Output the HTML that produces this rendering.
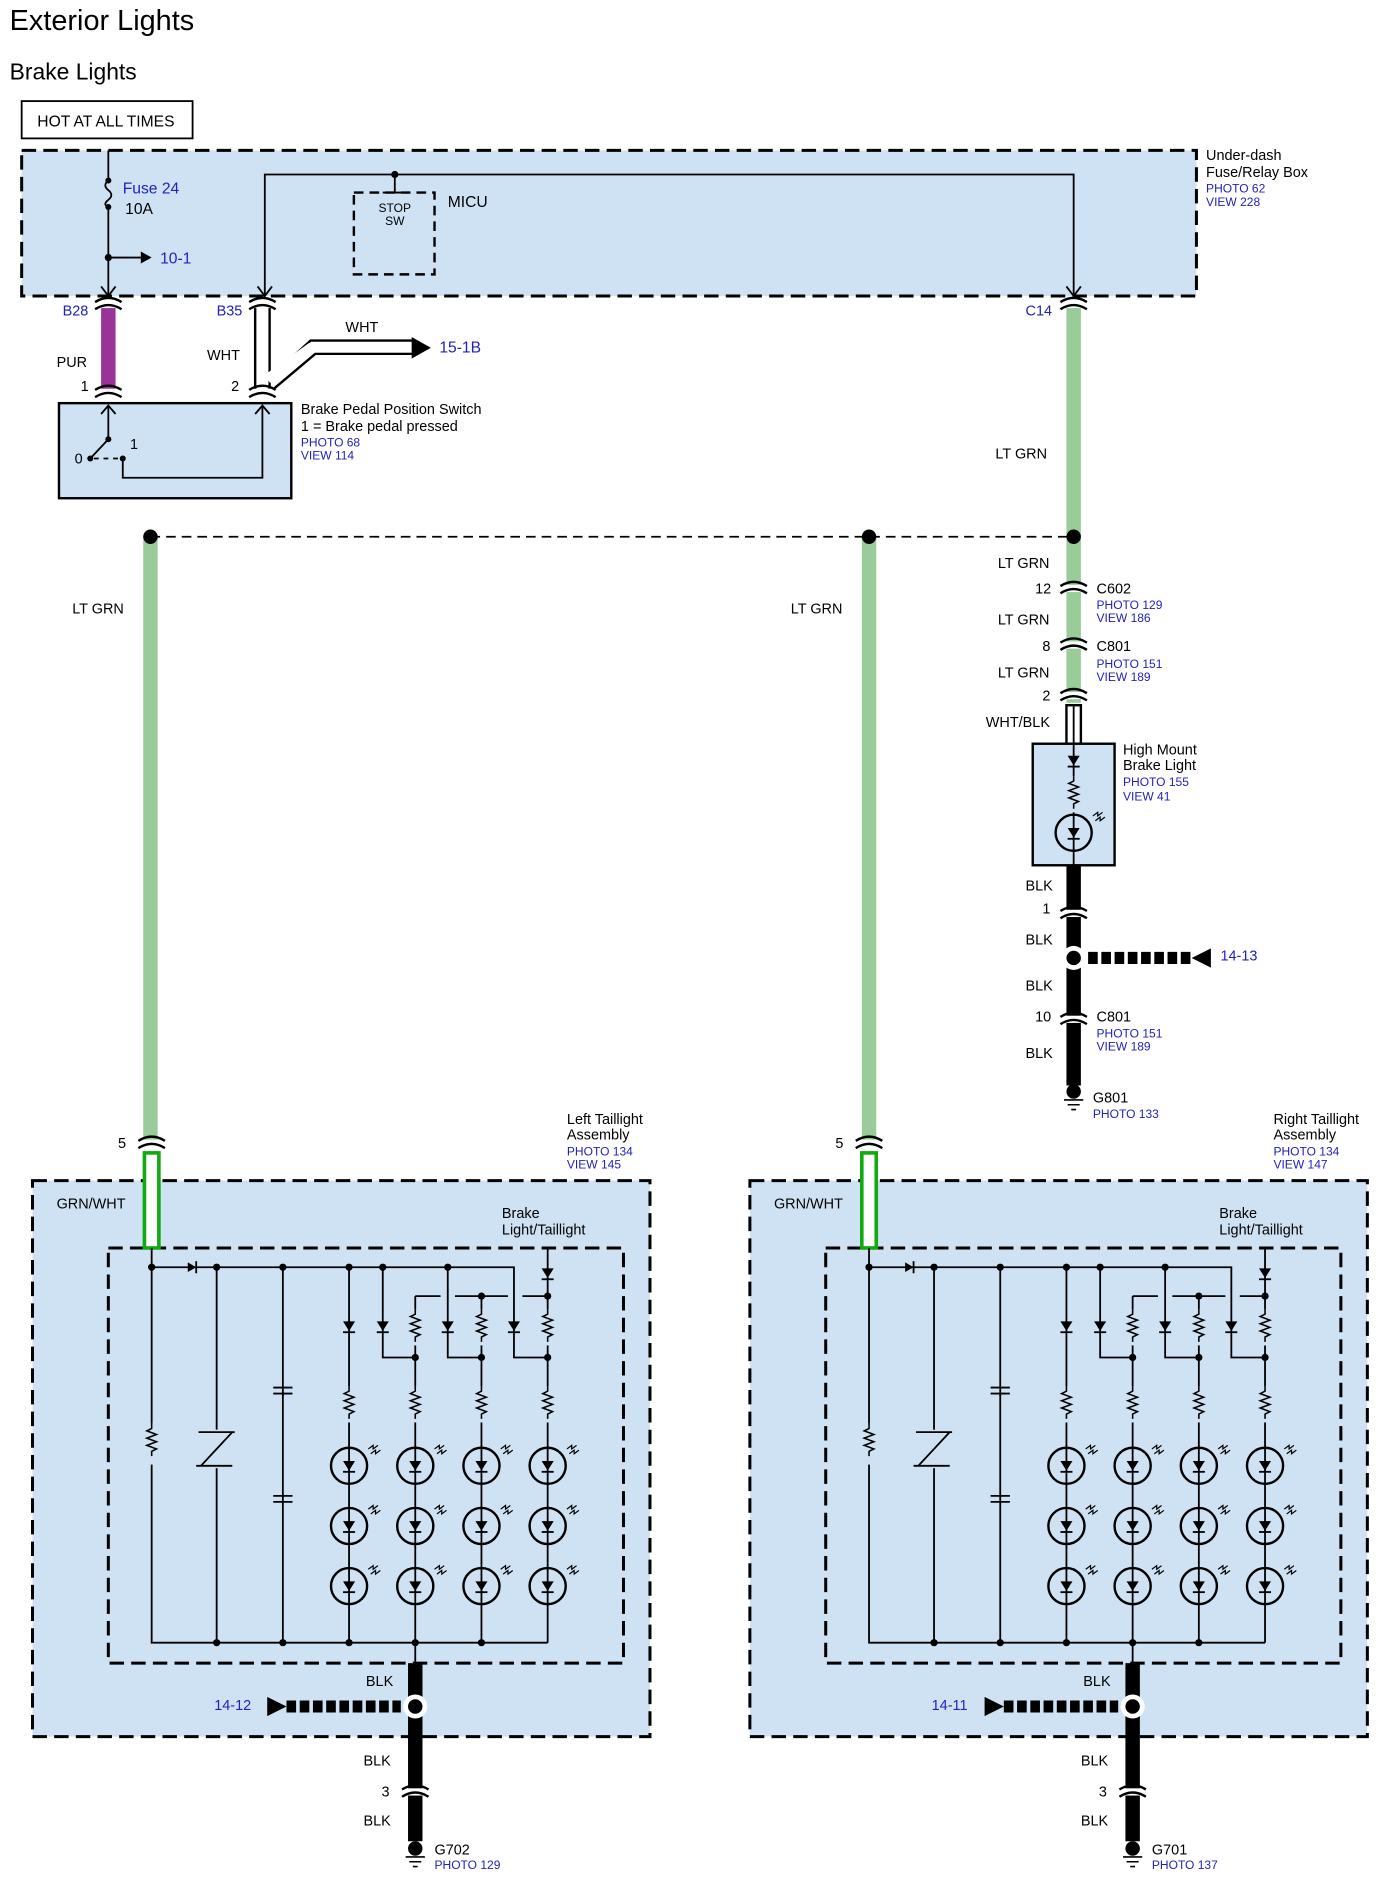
<!DOCTYPE html>
<html><head><meta charset="utf-8"><style>
html,body{margin:0;padding:0;background:#fff}
svg{display:block}
text{font-family:"Liberation Sans",Arial,sans-serif;fill:#000}
.b{fill:#2222bb}
</style></head><body>
<svg width="1383" height="1887" viewBox="0 0 1149 1568" preserveAspectRatio="none" xmlns="http://www.w3.org/2000/svg">
<defs>
<g id="conn">
 <rect x="-12" y="-3" width="24" height="6" fill="#fff"/>
 <path d="M-11,-2 q11,-7 22,0 M-11,4 q11,-7 22,0" fill="none" stroke="#000" stroke-width="2"/>
</g>
<g id="led">
 <circle cx="0" cy="0" r="15" fill="none" stroke="#000" stroke-width="2"/>
 <path d="M-5,-4 L5,-4 L0,4 Z" fill="#000"/>
 <path d="M-5,5 L5,5" stroke="#000" stroke-width="1.5"/>
 <path d="M16,-14 l4,-3 l0,3 l4,-3 M18,-10 l4,-3 l0,3 l4,-3" fill="none" stroke="#000" stroke-width="1"/>
</g>
<g id="dio"><path d="M-5,-4 L5,-4 L0,4 Z" fill="#000"/><path d="M-5,5 L5,5" stroke="#000" stroke-width="1.5"/></g>
<path id="res" d="M0,0 l0,4 l-4,2 l8,3 l-8,3 l8,3 l-8,3 l8,3 l-4,2 l0,4" fill="none" stroke="#000" stroke-width="1.3"/>
<g id="tail">
 <rect x="27" y="981" width="513" height="462" fill="#cfe2f3" stroke="#000" stroke-width="2.5" stroke-dasharray="12,6"/>
 <rect x="90" y="1037" width="428" height="345" fill="none" stroke="#000" stroke-width="2.5" stroke-dasharray="12,6"/>
 <rect x="120" y="958" width="12" height="79" fill="#fff" stroke="#11aa11" stroke-width="3"/>
 <g stroke="#000" stroke-width="1.5" fill="none">
  <path d="M126,1037 V1365 H455"/>
  <path d="M126,1053 H427 V1100"/>
  <path d="M180,1053 V1365 M235,1053 V1365 M290,1053 V1365 M345,1077 V1382 M400,1077 V1365 M455,1037 V1365"/>
  <path d="M318,1053 V1128 H345 M372,1053 V1128 H400 M427,1100 V1128 H455"/>
  <path d="M345,1077 H366 M378,1077 H422 M434,1077 H455"/>
  <path d="M227,1153 H243 M227,1158 H243 M227,1243 H243 M227,1248 H243"/>
 </g>
 <rect x="232" y="1160" width="6" height="82" fill="#cfe2f3"/>
 <path d="M235,1158 V1243" stroke="#000" stroke-width="1.5"/>
 <rect x="177" y="1188" width="6" height="32" fill="#cfe2f3"/>
 <path d="M163,1218 L193,1218 M165,1190 L195,1190 M193,1190 L167,1218" stroke="#000" stroke-width="1.5" fill="none"/>
 <rect x="122" y="1183" width="8" height="34" fill="#cfe2f3"/>
 <use href="#res" x="126" y="1183"/>
 <g fill="#000">
  <path d="M156,1049 L156,1057 L163,1053 Z"/><path d="M163,1048 V1058" stroke="#000" stroke-width="1.5"/>
  <circle cx="126" cy="1053" r="3"/><circle cx="180" cy="1053" r="3"/><circle cx="235" cy="1053" r="3"/><circle cx="290" cy="1053" r="3"/><circle cx="318" cy="1053" r="3"/><circle cx="372" cy="1053" r="3"/>
  <circle cx="400" cy="1077" r="3"/><circle cx="455" cy="1077" r="3"/>
  <circle cx="345" cy="1128" r="3"/><circle cx="400" cy="1128" r="3"/><circle cx="455" cy="1128" r="3"/>
  <circle cx="180" cy="1365" r="3"/><circle cx="235" cy="1365" r="3"/><circle cx="290" cy="1365" r="3"/><circle cx="345" cy="1365" r="3"/><circle cx="400" cy="1365" r="3"/>
 </g>
 <use href="#dio" x="455" y="1058"/>
 <use href="#dio" x="290" y="1102"/><use href="#dio" x="318" y="1102"/><use href="#dio" x="372" y="1102"/><use href="#dio" x="427" y="1102"/>
 <g>
  <rect x="341" y="1088" width="8" height="30" fill="#cfe2f3"/><use href="#res" x="345" y="1088"/>
  <rect x="396" y="1088" width="8" height="30" fill="#cfe2f3"/><use href="#res" x="400" y="1088"/>
  <rect x="451" y="1088" width="8" height="30" fill="#cfe2f3"/><use href="#res" x="455" y="1088"/>
  <rect x="286" y="1152" width="8" height="30" fill="#cfe2f3"/><use href="#res" x="290" y="1152"/>
  <rect x="341" y="1152" width="8" height="30" fill="#cfe2f3"/><use href="#res" x="345" y="1152"/>
  <rect x="396" y="1152" width="8" height="30" fill="#cfe2f3"/><use href="#res" x="400" y="1152"/>
  <rect x="451" y="1152" width="8" height="30" fill="#cfe2f3"/><use href="#res" x="455" y="1152"/>
 </g>
 <use href="#led" x="290" y="1218"/><use href="#led" x="345" y="1218"/><use href="#led" x="400" y="1218"/><use href="#led" x="455" y="1218"/>
 <use href="#led" x="290" y="1268"/><use href="#led" x="345" y="1268"/><use href="#led" x="400" y="1268"/><use href="#led" x="455" y="1268"/>
 <use href="#led" x="290" y="1318"/><use href="#led" x="345" y="1318"/><use href="#led" x="400" y="1318"/><use href="#led" x="455" y="1318"/>
 <rect x="339" y="1382" width="12" height="148" fill="#000"/>
 <use href="#conn" x="345" y="1489"/>
 <circle cx="345" cy="1418" r="10" fill="#fff"/><circle cx="345" cy="1418" r="6" fill="#000"/>
 <path d="M238,1418 H333" stroke="#000" stroke-width="10" stroke-dasharray="8,3"/>
 <path d="M222,1410 L238,1418 L222,1426 Z" fill="#000"/>
 <circle cx="345" cy="1536" r="6" fill="#000"/>
 <path d="M337,1543 H353 M340,1547 H350 M343,1551 H347" stroke="#000" stroke-width="1.3"/>
 <use href="#conn" x="126" y="950"/>
 <text x="98" y="954" font-size="12">5</text>
 <text x="47" y="1004" font-size="12">GRN/WHT</text>
 <text x="417" y="1012" font-size="12">Brake</text>
 <text x="417" y="1026" font-size="12">Light/Taillight</text>
 <text x="304" y="1401" font-size="12">BLK</text>
 <text x="302" y="1467" font-size="12">BLK</text>
 <text x="317" y="1493" font-size="12">3</text>
 <text x="302" y="1517" font-size="12">BLK</text>
</g>
</defs>

<text x="8" y="25" font-size="24">Exterior Lights</text>
<text x="8" y="66" font-size="19">Brake Lights</text>
<rect x="18" y="84" width="142" height="31" fill="#fff" stroke="#000" stroke-width="1.5"/>
<text x="31" y="105" font-size="13">HOT AT ALL TIMES</text>

<rect x="18" y="125" width="976" height="121" fill="#cfe2f3" stroke="#000" stroke-width="2.5" stroke-dasharray="12,6"/>
<g stroke="#000" stroke-width="1.5" fill="none">
 <path d="M90,125 V148 M90,172 V246"/>
 <path d="M90,150 q-5,4 0,8 q5,4 0,8 q-5,4 0,6"/>
 <path d="M90,214 H117"/>
 <path d="M220,246 V145 H892 V246"/>
 <path d="M328,145 V160 M318,160 H338"/>
 <path d="M84,238 L90,246 L96,238 M214,238 L220,246 L226,238 M886,238 L892,246 L898,238"/>
</g>
<path d="M117,209 L126,214 L117,219 Z" fill="#000"/>
<circle cx="90" cy="150" r="2.5"/><circle cx="90" cy="172" r="2.5"/><circle cx="90" cy="214" r="3"/><circle cx="328" cy="145" r="3"/>
<rect x="294" y="160" width="67" height="68" fill="none" stroke="#000" stroke-width="2" stroke-dasharray="8,5"/>
<text x="328" y="176" font-size="10" text-anchor="middle">STOP</text>
<text x="328" y="187" font-size="10" text-anchor="middle">SW</text>
<text x="372" y="172" font-size="13">MICU</text>
<text x="102" y="161" font-size="13" class="b">Fuse 24</text>
<text x="104" y="178" font-size="13">10A</text>
<text x="133" y="219" font-size="13" class="b">10-1</text>
<text x="1002" y="133" font-size="12">Under-dash</text>
<text x="1002" y="147" font-size="12">Fuse/Relay Box</text>
<text x="1002" y="160" font-size="10" class="b">PHOTO 62</text>
<text x="1002" y="171" font-size="10" class="b">VIEW 228</text>

<rect x="84" y="254" width="12" height="71" fill="#993399"/>
<use href="#conn" x="90" y="253"/><use href="#conn" x="90" y="326"/>
<text x="52" y="262" font-size="12" class="b">B28</text>
<text x="47" y="305" font-size="12">PUR</text>
<text x="67" y="325" font-size="12">1</text>
<rect x="212" y="254" width="12" height="71" fill="#fff" stroke="#000" stroke-width="2"/>
<path d="M224,314 L258,283 H345 M224,326 L262,294 H345" stroke="#000" stroke-width="2" fill="none"/>
<path d="M222,315 L258,289 H345" stroke="#fff" stroke-width="8" fill="none"/>
<path d="M342,280 L358,289 L342,298 Z" fill="#000"/>
<use href="#conn" x="218" y="253"/><use href="#conn" x="218" y="326"/>
<text x="180" y="262" font-size="12" class="b">B35</text>
<text x="172" y="299" font-size="12">WHT</text>
<text x="192" y="325" font-size="12">2</text>
<text x="287" y="276" font-size="12">WHT</text>
<text x="365" y="293" font-size="13" class="b">15-1B</text>

<rect x="49" y="335" width="193" height="79" fill="#cfe2f3" stroke="#000" stroke-width="2"/>
<g stroke="#000" stroke-width="1.5" fill="none">
 <path d="M90,337 V365 L75,381 M84,344 L90,337 L96,344"/>
 <path d="M78,381 H100" stroke-dasharray="4,4"/>
 <path d="M102,381 V397 H218 V337 M212,344 L218,337 L224,344"/>
</g>
<circle cx="90" cy="365" r="2.5"/><circle cx="75" cy="381" r="2.5"/><circle cx="102" cy="381" r="2.5"/>
<text x="62" y="385" font-size="12">0</text>
<text x="108" y="373" font-size="12">1</text>
<text x="250" y="344" font-size="12">Brake Pedal Position Switch</text>
<text x="250" y="358" font-size="12">1 = Brake pedal pressed</text>
<text x="250" y="371" font-size="10" class="b">PHOTO 68</text>
<text x="250" y="382" font-size="10" class="b">VIEW 114</text>

<rect x="886" y="254" width="12" height="330" fill="#99cc99"/>
<use href="#conn" x="892" y="253"/>
<text x="852" y="262" font-size="12" class="b">C14</text>
<text x="827" y="381" font-size="12">LT GRN</text>
<rect x="119" y="446" width="12" height="504" fill="#99cc99"/>
<rect x="716" y="446" width="12" height="504" fill="#99cc99"/>
<path d="M125,446 H892" stroke="#000" stroke-width="1.5" stroke-dasharray="8,5"/>
<circle cx="125" cy="446" r="6"/><circle cx="722" cy="446" r="6"/><circle cx="892" cy="446" r="6"/>
<text x="60" y="510" font-size="12">LT GRN</text>
<text x="657" y="510" font-size="12">LT GRN</text>

<use href="#conn" x="892" y="489"/><use href="#conn" x="892" y="536"/><use href="#conn" x="892" y="578"/>
<text x="829" y="472" font-size="12">LT GRN</text>
<text x="860" y="493" font-size="12">12</text>
<text x="911" y="493" font-size="12">C602</text>
<text x="911" y="506" font-size="10" class="b">PHOTO 129</text>
<text x="911" y="517" font-size="10" class="b">VIEW 186</text>
<text x="829" y="519" font-size="12">LT GRN</text>
<text x="866" y="541" font-size="12">8</text>
<text x="911" y="541" font-size="12">C801</text>
<text x="911" y="555" font-size="10" class="b">PHOTO 151</text>
<text x="911" y="566" font-size="10" class="b">VIEW 189</text>
<text x="829" y="563" font-size="12">LT GRN</text>
<text x="866" y="582" font-size="12">2</text>
<text x="819" y="604" font-size="12">WHT/BLK</text>
<rect x="886" y="586" width="12" height="32" fill="#fff" stroke="#000" stroke-width="2"/>
<path d="M892,586 V618" stroke="#000" stroke-width="1.5"/>
<rect x="858" y="618" width="68" height="101" fill="#cfe2f3" stroke="#000" stroke-width="2"/>
<path d="M892,618 V719" stroke="#000" stroke-width="1.5"/>
<use href="#dio" x="892" y="632"/>
<rect x="888" y="645" width="8" height="30" fill="#cfe2f3"/><use href="#res" x="892" y="645"/>
<use href="#led" x="892" y="692"/>
<text x="933" y="627" font-size="12">High Mount</text>
<text x="933" y="640" font-size="12">Brake Light</text>
<text x="933" y="653" font-size="10" class="b">PHOTO 155</text>
<text x="933" y="665" font-size="10" class="b">VIEW 41</text>
<rect x="886" y="719" width="12" height="183" fill="#000"/>
<use href="#conn" x="892" y="759"/><use href="#conn" x="892" y="847"/>
<circle cx="892" cy="796" r="10" fill="#fff"/><circle cx="892" cy="796" r="6"/>
<path d="M904,796 H992" stroke="#000" stroke-width="10" stroke-dasharray="8,3"/>
<path d="M1006,788 L990,796 L1006,804 Z"/>
<text x="1014" y="798" font-size="12" class="b">14-13</text>
<text x="852" y="740" font-size="12">BLK</text>
<text x="866" y="759" font-size="12">1</text>
<text x="852" y="785" font-size="12">BLK</text>
<text x="852" y="823" font-size="12">BLK</text>
<text x="860" y="849" font-size="12">10</text>
<text x="911" y="849" font-size="12">C801</text>
<text x="911" y="862" font-size="10" class="b">PHOTO 151</text>
<text x="911" y="873" font-size="10" class="b">VIEW 189</text>
<text x="852" y="879" font-size="12">BLK</text>
<circle cx="892" cy="907" r="6"/>
<path d="M884,914 H900 M887,918 H897 M890,922 H894" stroke="#000" stroke-width="1.3"/>
<text x="908" y="916" font-size="12">G801</text>
<text x="908" y="929" font-size="10" class="b">PHOTO 133</text>

<use href="#tail"/>
<use href="#tail" x="596"/>
<text x="471" y="934" font-size="12">Left Taillight</text>
<text x="471" y="947" font-size="12">Assembly</text>
<text x="471" y="960" font-size="10" class="b">PHOTO 134</text>
<text x="471" y="971" font-size="10" class="b">VIEW 145</text>
<text x="178" y="1421" font-size="12" class="b">14-12</text>
<text x="361" y="1541" font-size="12">G702</text>
<text x="361" y="1553" font-size="10" class="b">PHOTO 129</text>
<text x="1058" y="934" font-size="12">Right Taillight</text>
<text x="1058" y="947" font-size="12">Assembly</text>
<text x="1058" y="960" font-size="10" class="b">PHOTO 134</text>
<text x="1058" y="971" font-size="10" class="b">VIEW 147</text>
<text x="774" y="1421" font-size="12" class="b">14-11</text>
<text x="957" y="1541" font-size="12">G701</text>
<text x="957" y="1553" font-size="10" class="b">PHOTO 137</text>
</svg>
</body></html>
